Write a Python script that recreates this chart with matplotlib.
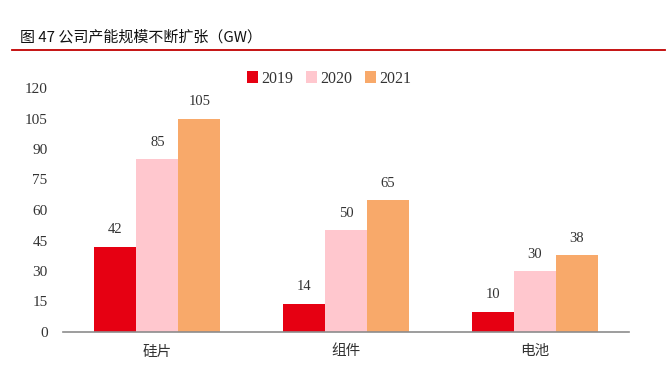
import numpy as np
import matplotlib
matplotlib.use("Agg")
import matplotlib.pyplot as plt

plt.rcParams["font.family"] = ["Liberation Serif", "Noto Sans CJK SC", "DejaVu Sans"]

categories = ["硅片", "组件", "电池"]
years = ["2019", "2020", "2021"]
v2019 = [42, 14, 10]
v2020 = [85, 50, 30]
v2021 = [105, 65, 38]
colors = ["#E60012", "#FFC7CE", "#F8A96A"]

fig = plt.figure(figsize=(6.67, 3.67), dpi=100)
ax = fig.add_axes([63 / 667, 1 - 332 / 367, 566 / 667, 244 / 367])

x = np.arange(len(categories))
w = 0.223
for i, (vals, lab, c) in enumerate(zip([v2019, v2020, v2021], years, colors)):
    bars = ax.bar(x + (i - 1) * w, vals, w, color=c, label=lab)
    for b, v in zip(bars, vals):
        ax.text(b.get_x() + b.get_width() / 2, v + 5, str(v), ha="center", va="bottom",
                fontsize=10.5, color="#333333")

ax.set_xlim(-0.5, 2.5)
ax.set_ylim(0, 120)
ax.set_yticks(range(0, 121, 15))
ax.set_xticks(x)
ax.set_xticklabels(categories, family=["Noto Sans CJK SC"], fontsize=10.5, color="#333333")
ax.tick_params(axis="y", length=0, labelsize=11, labelcolor="#333333", pad=11)
ax.tick_params(axis="x", length=0, pad=9)
for s in ["top", "right", "left"]:
    ax.spines[s].set_visible(False)
ax.spines["bottom"].set_color("#8C8C8C")
ax.spines["bottom"].set_linewidth(1.2)

ax.legend(loc="upper center", bbox_to_anchor=(0.47, 1.13), ncol=3, frameon=False,
          fontsize=11.5, handlelength=0.7, handleheight=0.7, handletextpad=0.2,
          columnspacing=0.8, labelcolor="#333333")

fig.text(20 / 667, 1 - 37 / 367, "图 47 公司产能规模不断扩张（GW）", fontsize=10.8,
         va="center", ha="left", family=["Noto Sans CJK SC", "DejaVu Sans"],
         color="#111111", weight="medium")
fig.add_artist(plt.Line2D([12 / 667, 665 / 667], [1 - 49.5 / 367, 1 - 49.5 / 367],
                          color="#C00000", lw=1.3, transform=fig.transFigure))

fig.savefig("out.png", dpi=100)
